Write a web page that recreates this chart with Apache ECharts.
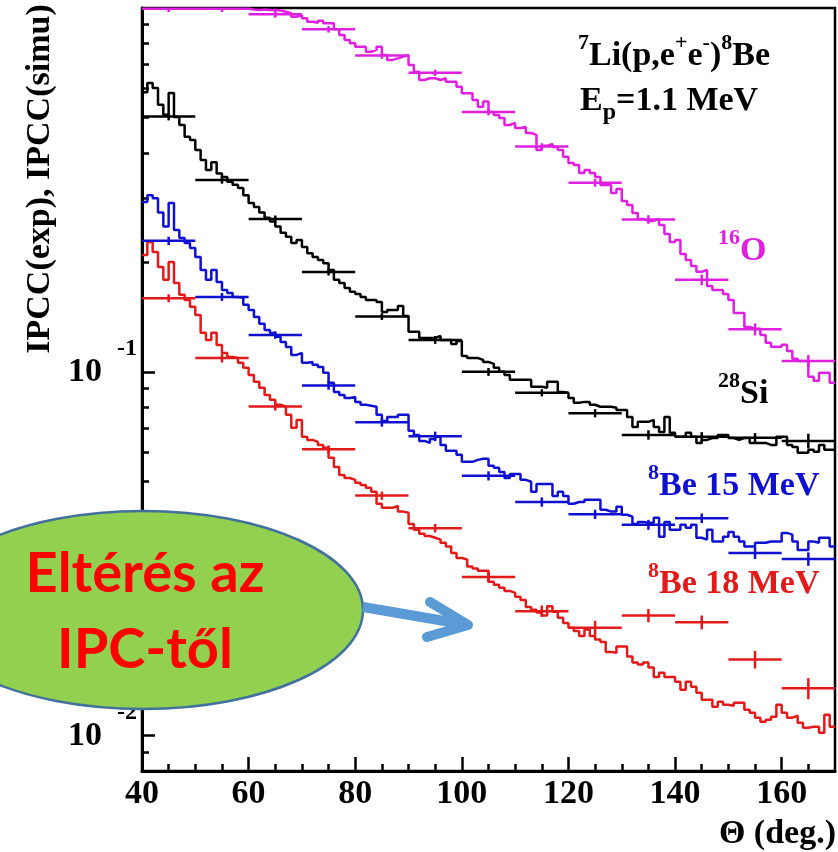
<!DOCTYPE html>
<html><head><meta charset="utf-8">
<script src="https://cdn.jsdelivr.net/npm/echarts@6/dist/echarts.min.js"></script>
<style>html,body{margin:0;padding:0;background:#fff}#c{width:838px;height:852px}</style>
</head><body><div id="c"></div>
<script>
// ---- axis ticks / labels ----
const xMajor = [40, 60, 80, 100, 120, 140, 160];
const xMinor = [45, 50, 55, 65, 70, 75, 85, 90, 95, 105, 110, 115, 125, 130, 135, 145, 150, 155, 165];
const yMajor = [0.01, 0.1];
const yMinor = [0.009, 0.02, 0.03, 0.04, 0.05, 0.06, 0.07, 0.08, 0.09, 0.2, 0.3, 0.4, 0.5, 0.6, 0.7, 0.8, 0.9];

// ---- simulation histograms: 1-degree bins starting at 40 deg ----
const binStart = 40;
const binWidth = 1;
const o16Hist = [
 0.995,0.995,0.995,0.995,0.995,0.995,0.995,0.995,0.995,0.995,
 0.995,0.995,0.995,0.995,0.995,0.995,0.995,0.995,0.995,0.995,
 0.990,0.987,0.990,0.987,0.987,0.984,0.977,0.967,0.946,0.957,
 0.937,0.917,0.911,0.923,0.908,0.908,0.874,0.843,0.817,0.800,
 0.783,0.783,0.758,0.767,0.783,0.743,0.720,0.727,0.735,0.743,
 0.697,0.668,0.634,0.641,0.641,0.634,0.641,0.627,0.627,0.608,
 0.583,0.583,0.559,0.535,0.553,0.518,0.508,0.4985,0.477,0.483,
 0.468,0.471,0.4535,0.448,0.407,0.418,0.423,0.415,0.407,0.390,
 0.375,0.370,0.352,0.359,0.352,0.343,0.326,0.326,0.310,0.318,
 0.295,0.2875,0.2734,0.2632,0.2599,0.2599,0.2632,0.2534,0.2393,0.2275,
 0.2305,0.2109,0.2031,0.1955,0.1883,0.1906,0.1723,0.168,0.168,0.1637,
 0.1577,0.1452,0.1452,0.1329,0.1313,0.1313,0.1263,0.1202,0.1172,0.1172,
 0.1187,0.1142,0.1086,0.1072,0.1072,0.0969,0.0945,0.0994,0.0994,0.0933];
const si28Hist = [
 0.587,0.622,0.603,0.542,0.509,0.584,0.502,0.477,0.443,0.434,
 0.407,0.382,0.359,0.377,0.351,0.343,0.333,0.327,0.320,0.306,
 0.291,0.284,0.274,0.265,0.259,0.251,0.241,0.235,0.226,0.2305,
 0.2205,0.212,0.207,0.203,0.199,0.1906,0.179,0.1756,0.170,0.1659,
 0.1638,0.1607,0.1577,0.1577,0.1557,0.1461,0.148,0.148,0.1518,0.1425,
 0.1288,0.1288,0.124,0.124,0.124,0.1255,0.1224,0.1224,0.1193,0.1216,
 0.1106,0.1092,0.1092,0.1079,0.1065,0.1052,0.1026,0.1000,0.0981,0.0951,
 0.0951,0.0951,0.0951,0.0910,0.0910,0.0904,0.0939,0.0939,0.0881,0.0875,
 0.0848,0.0822,0.0827,0.0827,0.0812,0.0802,0.0802,0.0802,0.0797,0.0786,
 0.0786,0.0752,0.0706,0.0729,0.0729,0.0738,0.0706,0.0684,0.0752,0.0680,
 0.0663,0.0663,0.0680,0.0663,0.0638,0.0650,0.0658,0.0658,0.0671,0.0671,
 0.0658,0.0650,0.0658,0.0658,0.0638,0.0638,0.0638,0.0630,0.0630,0.0663,
 0.0663,0.0630,0.0622,0.0599,0.0599,0.0611,0.0603,0.0630,0.0611,0.0611];
const be15Hist = [
 0.293,0.306,0.300,0.274,0.251,0.291,0.2455,0.2334,0.226,0.219,
 0.207,0.1906,0.179,0.1906,0.1767,0.168,0.1648,0.1607,0.1597,0.1528,
 0.148,0.1416,0.1355,0.1304,0.1279,0.1248,0.1209,0.1171,0.1113,0.1127,
 0.1059,0.1065,0.1046,0.1032,0.0994,0.0933,0.0881,0.0864,0.0848,0.0853,
 0.0827,0.0812,0.0807,0.0802,0.0762,0.0733,0.0752,0.0752,0.0762,0.0762,
 0.0689,0.0671,0.0646,0.0638,0.0654,0.0663,0.0630,0.0607,0.0607,0.0592,
 0.0566,0.0566,0.0573,0.0577,0.0577,0.0552,0.0545,0.0531,0.0511,0.0524,
 0.0524,0.0505,0.0499,0.0468,0.0492,0.0492,0.0492,0.0456,0.0468,0.0456,
 0.0434,0.0439,0.0439,0.0445,0.0445,0.0445,0.0418,0.0413,0.0413,0.0426,
 0.0405,0.0400,0.0382,0.0387,0.0385,0.0385,0.0397,0.0352,0.0387,0.0368,
 0.0368,0.0380,0.0373,0.0380,0.0350,0.0346,0.0368,0.0342,0.0342,0.0352,
 0.0363,0.0352,0.0342,0.0331,0.0331,0.0339,0.0339,0.0342,0.0342,0.0342,
 0.0361,0.0357,0.0342,0.0324,0.0324,0.0342,0.0339,0.0350,0.0350,0.0331];
const be18Hist = [
 0.2096,0.2276,0.2136,0.1943,0.179,0.2005,0.1756,0.1628,0.1577,0.1509,
 0.1434,0.1280,0.1224,0.1280,0.1186,0.1127,0.1099,0.1092,0.1059,0.1026,
 0.0981,0.0939,0.0904,0.0864,0.0838,0.0812,0.0802,0.0762,0.0702,0.0738,
 0.0663,0.0650,0.0642,0.0630,0.0619,0.0581,0.0548,0.0521,0.0511,0.0505,
 0.0496,0.0489,0.0480,0.0468,0.0434,0.0423,0.0423,0.0428,0.0413,0.0410,
 0.0382,0.0368,0.0359,0.0354,0.0350,0.0346,0.0339,0.0331,0.0318,0.0308,
 0.0305,0.0292,0.0288,0.0284,0.0284,0.0265,0.0260,0.0255,0.0250,0.0247,
 0.0241,0.0236,0.0226,0.0222,0.0218,0.0214,0.0227,0.0219,0.0211,0.0204,
 0.0198,0.0194,0.0188,0.0196,0.0188,0.0184,0.0181,0.0170,0.0169,0.0176,
 0.0176,0.0165,0.0159,0.0157,0.0159,0.0154,0.0145,0.0149,0.0145,0.0145,
 0.01407,0.01337,0.01407,0.01363,0.01312,0.01256,0.01256,0.01202,0.0124,0.01217,
 0.01209,0.01232,0.01232,0.01179,0.01157,0.01121,0.01093,0.01107,0.01128,0.01217,
 0.01157,0.01121,0.01135,0.01086,0.01052,0.01059,0.01059,0.01019,0.01142,0.01059];

// ---- experimental points: 10-degree bins ----
const thetaCenters = [45, 55, 65, 75, 85, 95, 105, 115, 125, 135, 145, 155, 165];
const thetaHalfWidth = 5;
const o16Exp  = [0.995, 0.995, 0.961, 0.874, 0.740, 0.664, 0.518, 0.416, 0.331, 0.2624, 0.179, 0.1309, 0.1072];
const o16Err  = [0.02, 0.02, 0.02, 0.018, 0.015, 0.013, 0.011, 0.009, 0.008, 0.007, 0.006, 0.005, 0.004];
const si28Exp = [0.503, 0.337, 0.263, 0.188, 0.1419, 0.1224, 0.100, 0.0876, 0.0770, 0.0671, 0.0663, 0.0659, 0.0646];
const si28Err = [0.012, 0.008, 0.006, 0.004, 0.003, 0.003, 0.0025, 0.002, 0.002, 0.002, 0.002, 0.002, 0.003];
const be15Exp = [0.2291, 0.1607, 0.1263, 0.0918, 0.0727, 0.0665, 0.0518, 0.0439, 0.0406, 0.0380, 0.0396, 0.0318, 0.0306];
const be15Err = [0.006, 0.004, 0.003, 0.0025, 0.002, 0.002, 0.0015, 0.0013, 0.0012, 0.0012, 0.0012, 0.0012, 0.0013];
const be18Exp = [0.1594, 0.1091, 0.0803, 0.0613, 0.0457, 0.0372, 0.0273, 0.0220, 0.0198, 0.0214, 0.0205, 0.0162, 0.0135];
const be18Err = [0.004, 0.003, 0.002, 0.0015, 0.0012, 0.001, 0.0009, 0.0008, 0.0009, 0.0009, 0.0009, 0.0009, 0.0009];

const C_MAG = '#E020E0', C_BLK = '#000000', C_BLU = '#1010D0', C_RED = '#E21A1A';
const SERIF = 'Liberation Serif';

function histPoints(vals) {
  const pts = vals.map((v, i) => [binStart + i * binWidth, v]);
  pts.push([binStart + vals.length * binWidth, vals[vals.length - 1]]);
  return pts;
}
function histSeries(name, vals, color) {
  return { name, type: 'line', step: 'end', data: histPoints(vals), symbol: 'none',
    lineStyle: { color, width: 2.5 }, clip: true, animation: false, z: 3 };
}
function errSeries(name, vals, errs, color) {
  return {
    name, type: 'custom', clip: true, animation: false, z: 4,
    data: thetaCenters.map((t, i) => [t, vals[i], errs[i]]),
    encode: { x: 0, y: 1 },
    renderItem: function (params, api) {
      const x = api.value(0), y = api.value(1), e = api.value(2);
      const pL = api.coord([x - thetaHalfWidth, y]);
      const pR = api.coord([x + thetaHalfWidth, y]);
      const pT = api.coord([x, y + e]);
      const pB = api.coord([x, y - e]);
      const st = { stroke: color, lineWidth: 2.5, fill: null };
      return { type: 'group', children: [
        { type: 'line', shape: { x1: pL[0], y1: pL[1], x2: pR[0], y2: pR[1] }, style: st },
        { type: 'line', shape: { x1: pT[0], y1: pT[1], x2: pB[0], y2: pB[1] }, style: st }
      ] };
    }
  };
}

const tickStyle = { color: '#000', width: 2.5 };
const labelFont = { color: '#000', fontFamily: SERIF, fontWeight: 'bold', fontSize: 34 };

const chart = echarts.init(document.getElementById('c'), null, { renderer: 'canvas', width: 838, height: 852 });
chart.setOption({
  animation: false,
  backgroundColor: '#fff',
  grid: { left: 142, right: 3, top: 8, bottom: 81, show: true, borderColor: '#000', borderWidth: 2.5,
          backgroundColor: 'transparent', containLabel: false, outerBoundsMode: 'none' },
  xAxis: [
    { type: 'value', min: 40, max: 170, position: 'bottom',
      axisLine: { show: true, onZero: false, lineStyle: { color: '#000', width: 3 } },
      axisTick: { show: true, inside: true, length: 14, lineStyle: tickStyle, customValues: xMajor },
      axisLabel: Object.assign({ customValues: xMajor, margin: 6 }, labelFont),
      splitLine: { show: false } },
    { type: 'value', min: 40, max: 170, position: 'bottom',
      axisLine: { show: false },
      axisTick: { show: true, inside: true, length: 7, lineStyle: tickStyle, customValues: xMinor },
      axisLabel: { show: false }, splitLine: { show: false } }
  ],
  yAxis: [
    { type: 'log', logBase: 10, min: 0.008, max: 1, position: 'left',
      axisLine: { show: true, onZero: false, lineStyle: { color: '#000', width: 3 } },
      axisTick: { show: true, inside: true, length: 13, lineStyle: tickStyle, customValues: yMajor },
      axisLabel: Object.assign({ customValues: yMajor, margin: 40, formatter: () => '10' }, labelFont),
      splitLine: { show: false } },
    { type: 'log', logBase: 10, min: 0.008, max: 1, position: 'left',
      axisLine: { show: false },
      axisTick: { show: true, inside: true, length: 7, lineStyle: tickStyle, customValues: yMinor },
      axisLabel: { show: false }, splitLine: { show: false } },
    { type: 'log', logBase: 10, min: 0.008, max: 1, position: 'left',
      axisLine: { show: false }, axisTick: { show: false },
      axisLabel: { customValues: yMajor, margin: 5, formatter: v => (v < 0.05 ? '-2' : '-1'),
        color: '#000', fontFamily: SERIF, fontWeight: 'bold', fontSize: 24,
        verticalAlign: 'bottom', padding: [0, 0, 11, 0] },
      splitLine: { show: false } }
  ],
  series: [
    histSeries('16O sim', o16Hist, C_MAG),
    histSeries('28Si sim', si28Hist, C_BLK),
    histSeries('8Be 15 MeV sim', be15Hist, C_BLU),
    histSeries('8Be 18 MeV sim', be18Hist, C_RED),
    errSeries('16O exp', o16Exp, o16Err, C_MAG),
    errSeries('28Si exp', si28Exp, si28Err, C_BLK),
    errSeries('8Be 15 MeV exp', be15Exp, be15Err, C_BLU),
    errSeries('8Be 18 MeV exp', be18Exp, be18Err, C_RED)
  ],
  graphic: [
    { type: 'text', x: 40, y: 179, rotation: Math.PI / 2, z: 50,
      style: { text: 'IPCC(exp), IPCC(simu)', x: 0, y: 0, align: 'center', verticalAlign: 'middle',
               fontFamily: SERIF, fontWeight: 'bold', fontSize: 34, fill: '#000' } },
    { type: 'text', x: 836, y: 834, z: 50,
      style: { text: 'Θ (deg.)', align: 'right', verticalAlign: 'middle',
               fontFamily: SERIF, fontWeight: 'bold', fontSize: 34, fill: '#000' } },
    { type: 'text', x: 578, y: 32, z: 50,
      style: { text: '{s|7}{n|Li(p,e}{s|+}{n|e}{s|-}{n|)}{s|8}{n|Be}', align: 'left', verticalAlign: 'top',
        rich: { n: { fontFamily: SERIF, fontWeight: 'bold', fontSize: 34, lineHeight: 48, fill: '#000' },
                s: { fontFamily: SERIF, fontWeight: 'bold', fontSize: 22, lineHeight: 18, verticalAlign: 'top', fill: '#000' } } } },
    { type: 'text', x: 580, y: 77, z: 50,
      style: { text: '{n|E}{b|p}{n|=1.1 MeV}', align: 'left', verticalAlign: 'top',
        rich: { n: { fontFamily: SERIF, fontWeight: 'bold', fontSize: 34, lineHeight: 48, fill: '#000' },
                b: { fontFamily: SERIF, fontWeight: 'bold', fontSize: 24, lineHeight: 20, verticalAlign: 'bottom', fill: '#000' } } } },
    { type: 'text', x: 718, y: 227, z: 50,
      style: { text: '{s|16}{n|O}', align: 'left', verticalAlign: 'top',
        rich: { n: { fontFamily: SERIF, fontWeight: 'bold', fontSize: 34, lineHeight: 48, fill: C_MAG },
                s: { fontFamily: SERIF, fontWeight: 'bold', fontSize: 22, lineHeight: 18, verticalAlign: 'top', fill: C_MAG } } } },
    { type: 'text', x: 718, y: 370, z: 50,
      style: { text: '{s|28}{n|Si}', align: 'left', verticalAlign: 'top',
        rich: { n: { fontFamily: SERIF, fontWeight: 'bold', fontSize: 34, lineHeight: 48, fill: '#000' },
                s: { fontFamily: SERIF, fontWeight: 'bold', fontSize: 22, lineHeight: 18, verticalAlign: 'top', fill: '#000' } } } },
    { type: 'text', x: 648, y: 462, z: 50,
      style: { text: '{s|8}{n|Be 15 MeV}', align: 'left', verticalAlign: 'top',
        rich: { n: { fontFamily: SERIF, fontWeight: 'bold', fontSize: 34, lineHeight: 48, fill: C_BLU },
                s: { fontFamily: SERIF, fontWeight: 'bold', fontSize: 22, lineHeight: 18, verticalAlign: 'top', fill: C_BLU } } } },
    { type: 'text', x: 648, y: 560, z: 50,
      style: { text: '{s|8}{n|Be 18 MeV}', align: 'left', verticalAlign: 'top',
        rich: { n: { fontFamily: SERIF, fontWeight: 'bold', fontSize: 34, lineHeight: 48, fill: C_RED },
                s: { fontFamily: SERIF, fontWeight: 'bold', fontSize: 22, lineHeight: 18, verticalAlign: 'top', fill: C_RED } } } },
    { type: 'ellipse', z: 100, shape: { cx: 143, cy: 610, rx: 220, ry: 99 },
      style: { fill: '#92D050', stroke: '#41719C', lineWidth: 2.5 } },
    { type: 'text', x: 145, y: 574, z: 101,
      style: { text: 'Eltérés az', align: 'center', verticalAlign: 'middle',
               fontFamily: 'Lato', fontWeight: 'bold', fontSize: 56, fill: '#FF0000' } },
    { type: 'text', x: 145, y: 650, z: 101,
      style: { text: 'IPC-től', align: 'center', verticalAlign: 'middle',
               fontFamily: 'Lato', fontWeight: 'bold', fontSize: 56, fill: '#FF0000' } },
    { type: 'line', z: 100, shape: { x1: 363, y1: 607, x2: 465, y2: 624.5 },
      style: { stroke: '#5B9BD5', lineWidth: 10, lineCap: 'butt' } },
    { type: 'polyline', z: 100, shape: { points: [[430, 602], [468, 625], [427, 637]] },
      style: { stroke: '#5B9BD5', lineWidth: 10, lineCap: 'round', lineJoin: 'round', fill: null } }
  ]
});
</script>
</body></html>
